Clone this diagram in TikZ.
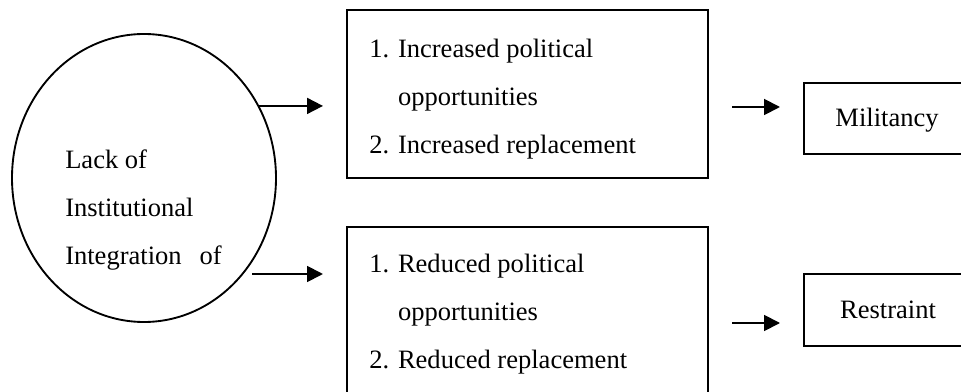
\documentclass[tikz,border=0pt]{standalone}
\usepackage{fontspec}
\setmainfont{Liberation Serif}
\usetikzlibrary{shapes.geometric,arrows.meta,fit}

\tikzset{
	txt/.style={font=\fontsize{19.9}{36}\selectfont, inner sep=0pt, align=left},
	box/.style={draw, line width=1.4pt, inner sep=0pt},
	arr/.style={-{Triangle[length=12pt,width=12pt]}, line width=1.4pt}
}

\begin{document}
\begin{tikzpicture}[x=0.75pt,y=-0.75pt]
			\path[use as bounding box, clip] (0,0) rectangle (961,392);
			% cause
			\node[draw, ellipse, line width=1.4pt, inner sep=0pt, minimum width=198pt, minimum height=216pt] (lack) at (144,178) {};
			\node[txt, anchor=north west] (lacktext) at (65,150)
			{
				Lack of\\
				Institutional\\
				Integration\hspace{13.5pt}of
			};
			% effects
			\node[box, fit={(347,10) (708,178)}] (incr) {};
			\node[txt, anchor=north west] (incrtext) at (369,39)
			{
				1. Increased political\\
				\hphantom{1. }opportunities\\
				2. Increased replacement
			};
			\node[box, fit={(347,227) (708,410)}] (redu) {};
			\node[txt, anchor=north west] (redutext) at (369,254)
			{
				1. Reduced political\\
				\hphantom{1. }opportunities\\
				2. Reduced replacement
			};
			% outcomes
			\node[box, fit={(804,83) (972,154)}] (mil) {};
			\node[txt, anchor=base] (miltext) at (887,127) {Militancy};
			\node[box, fit={(804,274) (972,346)}] (res) {};
			\node[txt, anchor=base] (restext) at (888,318) {Restraint};
			% arrows
			\coordinate (tip1) at (323,107);
			\coordinate (from2) at (252,274);
			\coordinate (tip2) at (323,274);
			\coordinate (from3) at (732,107);
			\coordinate (tip3) at (780,107);
			\coordinate (from4) at (732,323);
			\coordinate (tip4) at (780,323);
			\draw[arr] (lack.32) -- (lack.32 -| tip1);
			\draw[arr] (from2) -- (tip2);
			\draw[arr] (from3) -- (tip3);
			\draw[arr] (from4) -- (tip4);
		\end{tikzpicture}
\end{document}
